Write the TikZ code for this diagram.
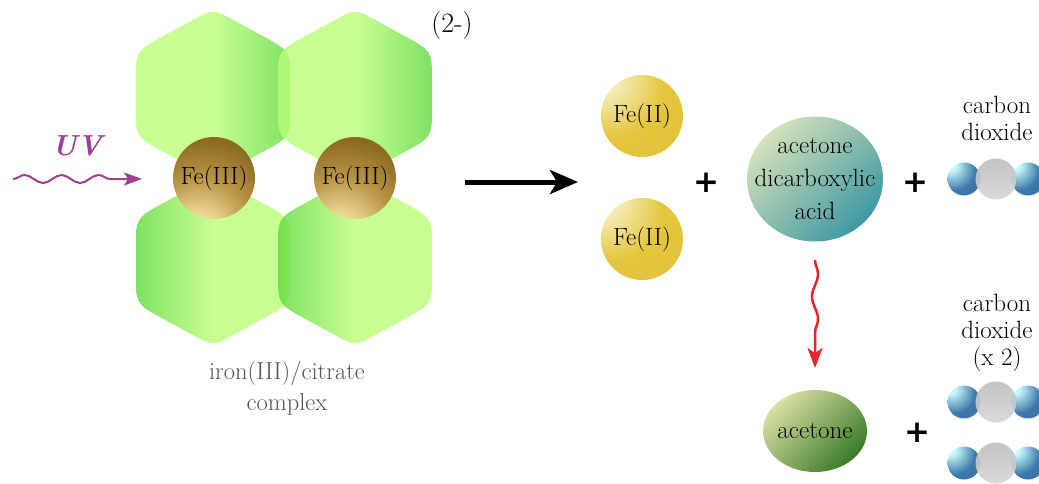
\documentclass[tikz,border=0pt]{standalone}
\usepackage{fontspec}
\usetikzlibrary{arrows.meta,shapes.geometric,decorations.pathmorphing}
\newfontfamily\plusfont{DejaVu Sans}

\definecolor{lobeLight}{HTML}{BBFF77}
\definecolor{lobeDark}{HTML}{5FDA3C}
\definecolor{feDark}{HTML}{8C6A22}
\definecolor{feMid}{HTML}{B89446}
\definecolor{feLight}{HTML}{FCE9AC}
\definecolor{goldLight}{HTML}{F7F2C8}
\definecolor{gold}{HTML}{E4C63E}
\definecolor{goldDeep}{HTML}{DCB732}
\definecolor{acidLight}{HTML}{D6E1BA}
\definecolor{acidDark}{HTML}{3E98A2}
\definecolor{acetLight}{HTML}{DADFA0}
\definecolor{acetDark}{HTML}{3A7A2A}
\definecolor{oxLight}{HTML}{C4F8FC}
\definecolor{oxBlue}{HTML}{3C78A8}
\definecolor{oxDeep}{HTML}{30659A}
\definecolor{cGrayTop}{HTML}{BDBDBD}
\definecolor{cGrayBot}{HTML}{D6D6D6}
\definecolor{uvPurple}{HTML}{A23D8F}
\definecolor{decoRed}{HTML}{E4262C}
\definecolor{labelGray}{HTML}{555555}

\pgfdeclareradialshading{ironthreeshade}{\pgfpoint{-12bp}{-42bp}}{color(0bp)=(feLight); color(10bp)=(feLight); color(30bp)=(feMid); color(46bp)=(feDark); color(100bp)=(feDark)}
\pgfdeclareradialshading{irontwoshade}{\pgfpoint{-28bp}{28bp}}{color(0bp)=(goldLight); color(8bp)=(goldLight); color(32bp)=(gold); color(100bp)=(goldDeep)}
\pgfdeclareradialshading{oxygenshade}{\pgfpoint{-22bp}{22bp}}{color(0bp)=(oxLight); color(8bp)=(oxLight); color(32bp)=(oxBlue); color(100bp)=(oxDeep)}

\tikzset{
  bigtext/.style={font=\fontsize{25}{33}\selectfont},
  lobe/.style={opacity=0.8},
  ironthree/.style={circle, minimum size=82pt, inner sep=0pt, shade, shading=ironthreeshade, font=\fontsize{25}{28}\selectfont},
  irontwo/.style={circle, minimum size=82pt, inner sep=0pt, shade, shading=irontwoshade, font=\fontsize{25}{28}\selectfont},
  molecule/.style={ellipse, inner xsep=-22pt, inner ysep=-16pt, align=center, bigtext},
  oxygen/.style={circle, minimum size=33pt, inner sep=0pt, shade, shading=oxygenshade},
  carbon/.style={circle, minimum size=41pt, inner sep=0pt, shade, top color=cGrayTop, bottom color=cGrayBot, opacity=0.9},
  plussign/.style={font=\plusfont\bfseries\fontsize{31}{31}\selectfont},
  gaslabel/.style={align=center, font=\fontsize{25}{27}\selectfont},
  wavy/.style={decorate, decoration={snake, amplitude=4pt, segment length=37pt, post length=16pt}}
}

\begin{document}
\begin{tikzpicture}[x=1pt,y=-1pt]
  \useasboundingbox (0,0) rectangle (1039,484);

  \foreach \cx/\cy/\lc/\rc in {213/94/lobeLight/lobeDark, 355/94/lobeLight/lobeDark,
                               213/261/lobeDark/lobeLight, 355/261/lobeDark/lobeLight}
    \shade[lobe, left color=\lc, right color=\rc, middle color=lobeLight]
      (\cx-19.3,\cy-74.5) .. controls (\cx,\cy-85) .. (\cx+19.3,\cy-74.5)
      -- (\cx+50.7,\cy-57.4) .. controls (\cx+77,\cy-43) .. (\cx+77,\cy-13)
      -- (\cx+77,\cy+13) .. controls (\cx+77,\cy+43) .. (\cx+50.7,\cy+57.4)
      -- (\cx+19.3,\cy+74.5) .. controls (\cx,\cy+85) .. (\cx-19.3,\cy+74.5)
      -- (\cx-50.7,\cy+57.4) .. controls (\cx-77,\cy+43) .. (\cx-77,\cy+13)
      -- (\cx-77,\cy-13) .. controls (\cx-77,\cy-43) .. (\cx-50.7,\cy-57.4)
      -- cycle;

  \node[ironthree] (fe1) at (214,178) {Fe(III)};
  \node[ironthree] (fe2) at (355,178) {Fe(III)};
  \node[font=\fontsize{28}{30}\selectfont] (charge) at (452,26) {(2-)};
  \node[align=center, text=labelGray, font=\fontsize{24.5}{31}\selectfont] (complex) at (287,388) {iron(III)/citrate\\complex};

  \node[text=uvPurple, font=\fontsize{29}{30}\selectfont\bfseries\itshape] (uv) at (77,146) {UV};
  \coordinate (uvtail) at (13,179);
  \coordinate (uvtip) at (142,179);
  \draw[uvPurple, line width=2pt, wavy, -{Stealth[length=18pt,width=13pt,inset=4pt]}] (uvtail) -- (uvtip);

  \coordinate (rxtail) at (465,182);
  \coordinate (rxtip) at (578,182);
  \draw[line width=5pt, -{Stealth[length=28pt,width=24pt,inset=7pt]}] (rxtail) -- (rxtip);

  \node[irontwo] (fe3) at (642,116) {Fe(II)};
  \node[irontwo] (fe4) at (642,239) {Fe(II)};
  \node[plussign] (plus1) at (706,183) {+};
  \node[molecule, minimum width=136pt, minimum height=125pt, shade, top color=acidLight, bottom color=acidDark, shading angle=45] (acid) at (815,179) {acetone\\dicarboxylic\\acid};
  \node[plussign] (plus2) at (915,183) {+};
  \node[gaslabel] (co2top) at (997,118) {carbon\\dioxide};

  \node[molecule, minimum width=104pt, minimum height=82pt, shade, top color=acetLight, bottom color=acetDark, shading angle=45] (acetone) at (815,431) {acetone};
  \node[plussign] (plus3) at (917,433) {+};
  \node[gaslabel] (co2bot) at (997,333) {carbon\\dioxide\\(x 2)};

  \foreach \m/\y in {co2a/179, co2b/402, co2c/463}{
    \node[oxygen] (\m-l) at (964,\y) {};
    \node[oxygen] (\m-r) at (1028,\y) {};
    \node[carbon] (\m-c) at (996,\y) {};
  }

  \coordinate (dtail) at (815,260);
  \coordinate (dtip) at (815,368);
  \draw[decoRed, line width=2.5pt, wavy, decoration={amplitude=3pt, segment length=45pt, post length=18pt},
        -{Stealth[length=20pt,width=15pt,inset=5pt]}] (dtail) -- (dtip);
\end{tikzpicture}
\end{document}
